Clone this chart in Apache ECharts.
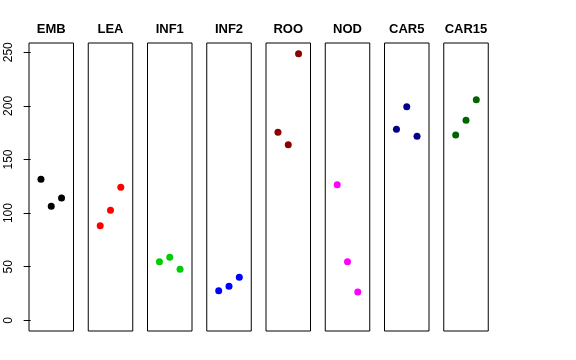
<!DOCTYPE html>
<html><head><meta charset="utf-8">
<script src="https://cdn.jsdelivr.net/npm/echarts@6/dist/echarts.min.js"></script>
<style>html,body{margin:0;padding:0;background:#fff}#c{width:576px;height:360px}</style>
</head><body><div id="c"></div>
<script>
const categories = ['EMB','LEA','INF1','INF2','ROO','NOD','CAR5','CAR15'];
const colors = ['#000000','#FF0000','#00CD00','#0000FF','#8B0000','#FF00FF','#00008B','#006400'];
const xPositions = [1, 2, 3];
const EMB = [131.5, 106.3, 114.1];
const LEA = [88.2, 102.6, 124.1];
const INF1 = [54.7, 58.8, 47.6];
const INF2 = [27.6, 31.7, 40.1];
const ROO = [175.4, 163.8, 248.7];
const NOD = [126.5, 54.7, 26.4];
const CAR5 = [178.2, 199.3, 171.6];
const CAR15 = [172.9, 186.6, 205.8];
const seriesValues = [EMB, LEA, INF1, INF2, ROO, NOD, CAR5, CAR15];
const yTicks = [0, 50, 100, 150, 200, 250];

const yMin = -9.95, yMax = 258.65;
const xMin = -0.16, xMax = 4.16;
const grids = [], xAxes = [], yAxes = [], series = [], titles = [];
categories.forEach((cat, i) => {
  const left = 29 + 59.25 * i;
  grids.push({left: left, top: 43, width: 44.5, height: 288, show: true, borderColor: '#000', borderWidth: 1, backgroundColor: 'transparent'});
  xAxes.push({type: 'value', gridIndex: i, min: xMin, max: xMax, show: false});
  const ya = {type: 'value', gridIndex: i, min: yMin, max: yMax, splitLine: {show: false}, axisLine: {show: false}};
  if (i === 0) {
    ya.axisTick = {show: true, length: 7, inside: false, customValues: yTicks, lineStyle: {color: '#000'}};
    ya.axisLabel = {show: true, rotate: 90, margin: 14, customValues: yTicks, color: '#000', fontSize: 12, fontFamily: 'Liberation Sans, Arial, sans-serif'};
  } else {
    ya.axisTick = {show: false};
    ya.axisLabel = {show: false};
  }
  yAxes.push(ya);
  series.push({
    type: 'scatter', xAxisIndex: i, yAxisIndex: i,
    data: xPositions.map((x, j) => [x, seriesValues[i][j]]),
    symbol: 'circle', symbolSize: 7, itemStyle: {color: colors[i], opacity: 1}, silent: true
  });
  titles.push({text: cat, left: left + 22.25, top: 23, padding: 0, textAlign: 'center',
    textStyle: {fontSize: 13, fontWeight: 'bold', color: '#000', fontFamily: 'Liberation Sans, Arial, sans-serif'}});
});

const chart = echarts.init(document.getElementById('c'), null, {renderer: 'canvas'});
chart.setOption({animation: false, backgroundColor: '#fff', title: titles, grid: grids, xAxis: xAxes, yAxis: yAxes, series: series});
</script></body></html>
